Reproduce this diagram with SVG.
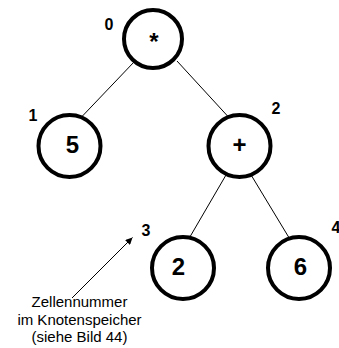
<svg xmlns="http://www.w3.org/2000/svg" width="339" height="348" viewBox="0 0 339 348">
<defs>
<style>
.node{fill:#fff;stroke:#000;stroke-width:4}
.val{font-family:"Liberation Sans",Arial,sans-serif;font-weight:bold;font-size:24px;text-anchor:middle;fill:#000}
.idx{font-family:"Liberation Sans",Arial,sans-serif;font-weight:bold;font-size:16px;fill:#000}
.edge{stroke:#000;stroke-width:1;fill:none}
.note{font-family:"Liberation Sans",Arial,sans-serif;font-size:15px;text-anchor:middle;fill:#000}
</style>
<marker id="ah" viewBox="0 0 10 10" refX="10" refY="5" markerWidth="10" markerHeight="7" markerUnits="userSpaceOnUse" orient="auto">
<path d="M0,0 L10,5 L0,10 z" fill="#000"/>
</marker>
</defs>
<g id="connectors">
<line class="edge" x1="134" y1="62" x2="82" y2="116.5"/>
<line class="edge" x1="177" y1="61" x2="228" y2="116.5"/>
<line class="edge" x1="226" y1="175" x2="189" y2="238.5"/>
<line class="edge" x1="250.5" y1="174" x2="289.5" y2="238.5"/>
<line class="edge" x1="72" y1="298" x2="132.5" y2="237.5" marker-end="url(#ah)"/>
</g>
<g id="n0">
<circle class="node" cx="153" cy="39" r="29"/>
<text class="val" x="154" y="50">*</text>
<text class="idx" x="104.5" y="30">0</text>
</g>
<g id="n1">
<circle class="node" cx="69.5" cy="146" r="31"/>
<text class="val" x="72.5" y="153">5</text>
<text class="idx" x="28.5" y="121">1</text>
</g>
<g id="n2">
<circle class="node" cx="239.5" cy="146" r="31"/>
<text class="val" x="239.5" y="153">+</text>
<text class="idx" x="271.5" y="114">2</text>
</g>
<g id="n3">
<circle class="node" cx="183" cy="268" r="31"/>
<text class="val" x="178.5" y="275">2</text>
<text class="idx" x="141.5" y="235.5">3</text>
</g>
<g id="n4">
<circle class="node" cx="299" cy="268" r="31"/>
<text class="val" x="300.5" y="275">6</text>
<text class="idx" x="331.5" y="233">4</text>
</g>
<g id="note">
<text class="note" x="79.5" y="306.5">Zellennummer</text>
<text class="note" x="79.5" y="324.5">im Knotenspeicher</text>
<text class="note" x="79.5" y="342">(siehe Bild 44)</text>
</g>
</svg>
